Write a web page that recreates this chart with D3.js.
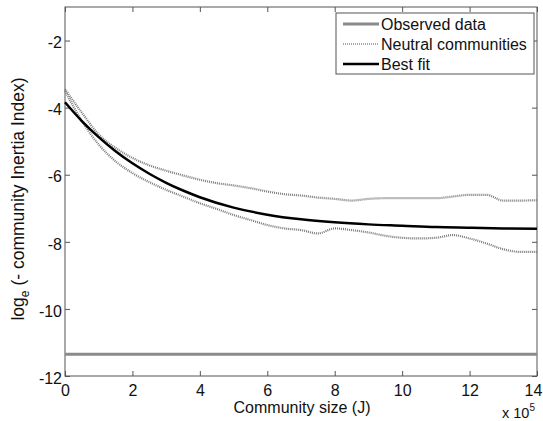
<!DOCTYPE html>
<html><head><meta charset="utf-8">
<script src="https://cdn.jsdelivr.net/npm/d3@7"></script>
<style>body{margin:0;background:#fff}svg{display:block}text{font-family:"Liberation Sans",Arial,sans-serif}</style>
</head><body><svg id="c" width="543" height="421"></svg>
<script>
// x in units of 1e5
const xTicks = [0,2,4,6,8,10,12,14];
const yTicks = [-12,-10,-8,-6,-4,-2];
const observedX = [0,14];
const observedY = [-11.35,-11.35];
const fitX = [0,0.5,1,1.5,2,2.5,3,3.5,4,5,6,7,8,9,10,11,12,13,14];
const fitY = [-3.84,-4.40,-4.88,-5.30,-5.66,-5.97,-6.24,-6.47,-6.67,-6.98,-7.19,-7.33,-7.42,-7.48,-7.52,-7.56,-7.58,-7.60,-7.61];
const bandX = [0,0.5,1,1.5,2,2.5,3,3.5,4,4.5,5,5.5,6,6.5,7,7.5,8,8.5,9,9.5,10,10.5,11,11.5,12,12.5,13,13.5,14];
const upperY = [-3.45,-4.15,-4.8,-5.2,-5.5,-5.72,-5.88,-6.02,-6.15,-6.25,-6.32,-6.4,-6.5,-6.58,-6.62,-6.68,-6.72,-6.77,-6.72,-6.7,-6.7,-6.7,-6.7,-6.65,-6.6,-6.6,-6.77,-6.77,-6.76];
const lowerY = [-3.5,-4.4,-5.1,-5.6,-5.95,-6.22,-6.45,-6.65,-6.85,-7.02,-7.2,-7.35,-7.5,-7.6,-7.65,-7.75,-7.6,-7.65,-7.72,-7.82,-7.88,-7.9,-7.88,-7.8,-7.9,-8.05,-8.22,-8.3,-8.3];
const legendLabels = ["Observed data","Neutral communities","Best fit"];

const svg = d3.select("#c");
const L=65, R=537, T=7, B=376;
const x = d3.scaleLinear().domain([0,14]).range([L,R]);
const y = d3.scaleLinear().domain([-12,-1]).range([B,T]);
const axisCol = "#555";
const fmt = d => String(d);

svg.append("rect").attr("x",L).attr("y",T).attr("width",R-L).attr("height",B-T)
  .attr("fill","none").attr("stroke",axisCol).attr("stroke-width",1);

const gx = svg.append("g").attr("transform",`translate(0,${B})`)
  .call(d3.axisBottom(x).tickValues(xTicks).tickSize(-5).tickPadding(9).tickFormat(fmt));
const gxt = svg.append("g").attr("transform",`translate(0,${T})`)
  .call(d3.axisTop(x).tickValues(xTicks).tickSize(-5).tickFormat(""));
const gy = svg.append("g").attr("transform",`translate(${L},0)`)
  .call(d3.axisLeft(y).tickValues(yTicks).tickSize(-5).tickPadding(3).tickFormat(fmt));
const gyr = svg.append("g").attr("transform",`translate(${R},0)`)
  .call(d3.axisRight(y).tickValues(yTicks).tickSize(-5).tickFormat(""));
[gx,gxt,gy,gyr].forEach(g=>{
  g.select(".domain").remove();
  g.selectAll(".tick line").attr("stroke",axisCol);
  g.selectAll("text").attr("font-size",16).attr("fill","#111");
});
gy.selectAll(".tick text").attr("dy","0.45em");
gx.selectAll(".tick text").filter(d=>d===14).attr("dx",-4);

const line = d3.line().x(d=>x(d[0])).y(d=>y(d[1]));
const lineC = d3.line().x(d=>x(d[0])).y(d=>y(d[1])).curve(d3.curveMonotoneX);
svg.append("path").attr("d",line(observedX.map((v,i)=>[v,observedY[i]])))
  .attr("fill","none").attr("stroke","#8a8a8a").attr("stroke-width",3);
[upperY,lowerY].forEach(arr=>{
  svg.append("path").attr("d",lineC(bandX.map((v,i)=>[v,arr[i]])))
    .attr("fill","none").attr("stroke","#7a7a7a").attr("stroke-width",2.2).attr("stroke-dasharray","1,1");
});
svg.append("path").attr("d",lineC(fitX.map((v,i)=>[v,fitY[i]])))
  .attr("fill","none").attr("stroke","#000").attr("stroke-width",2.5);

svg.append("text").attr("x",302).attr("y",413).attr("text-anchor","middle")
  .attr("font-size",16).attr("fill","#111").text("Community size (J)");
const xl = svg.append("text").attr("x",535).attr("y",418).attr("text-anchor","end").attr("font-size",14.5).attr("fill","#111");
xl.append("tspan").text("x 10");
xl.append("tspan").attr("dy",-7).attr("font-size",10).text("5");
const yl = svg.append("text").attr("transform","translate(24,199) rotate(-90)")
  .attr("text-anchor","middle").attr("font-size",17.5).attr("fill","#111");
yl.append("tspan").text("log");
yl.append("tspan").attr("dy",5).attr("font-size",12).text("e");
yl.append("tspan").attr("dy",-5).text(" (- community Inertia Index)");

const lg = svg.append("g");
lg.append("rect").attr("x",336).attr("y",13).attr("width",198).attr("height",61)
  .attr("fill","#fff").attr("stroke",axisCol).attr("stroke-width",1);
const styles=[{c:"#8a8a8a",w:3,d:null},{c:"#8c8c8c",w:1.5,d:"1,1"},{c:"#000",w:2.5,d:null}];
legendLabels.forEach((t,i)=>{
  const yy = 24 + i*20;
  lg.append("line").attr("x1",343).attr("x2",379).attr("y1",yy).attr("y2",yy)
    .attr("stroke",styles[i].c).attr("stroke-width",styles[i].w).attr("stroke-dasharray",styles[i].d);
  lg.append("text").attr("x",381).attr("y",yy+6).attr("font-size",16).attr("fill","#111").text(t);
});
</script></body></html>
